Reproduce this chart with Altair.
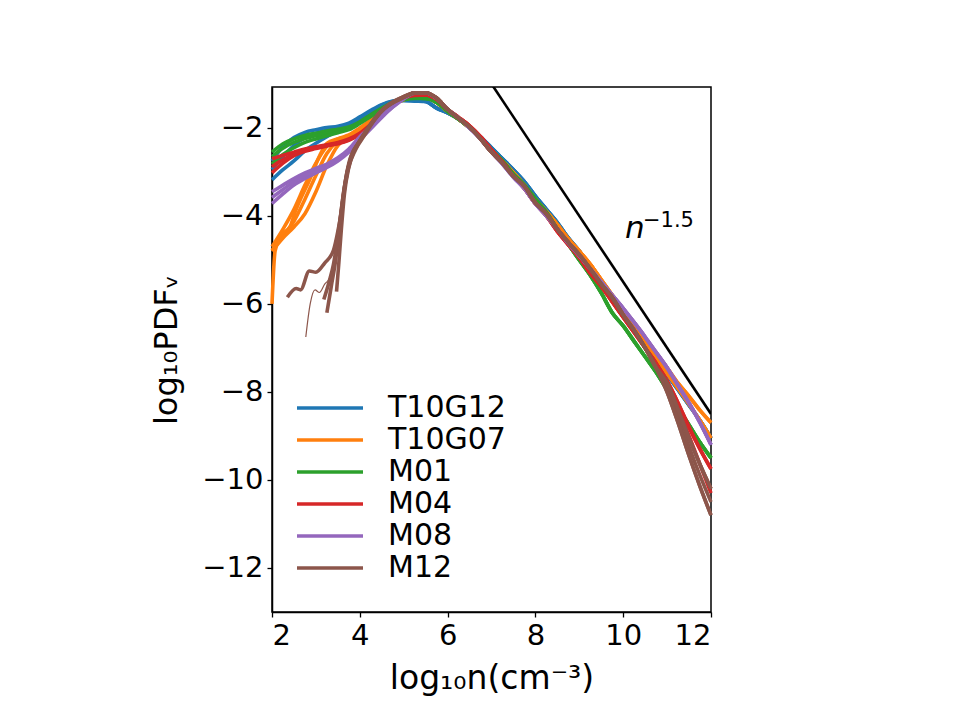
import altair as alt
import pandas as pd

MODELS = ["T10G12", "T10G07", "M01", "M04", "M08", "M12"]
COLORS = ["#1f77b4", "#ff7f0e", "#2ca02c", "#d62728", "#9467bd", "#8c564b"]

X_LOW = [2.0, 2.25, 2.5, 2.75, 3.0, 3.25, 3.5, 3.75, 4.0, 4.25, 4.5, 4.75, 5.0, 5.25]
X_HIGH = [5.5, 5.75, 6.0, 6.25, 6.5, 6.75, 7.0, 7.25, 7.5, 7.75, 8.0, 8.25, 8.5,
          8.75, 9.0, 9.25, 9.5, 9.75, 10.0, 10.25, 10.5, 10.75, 11.0, 11.25, 11.5,
          11.75, 12.0]

# ---- T10G12 (blue)
T10G12_LOW_A = [-2.75, -2.42, -2.22, -2.10, -2.04, -1.99, -1.96, -1.89, -1.75, -1.60, -1.47, -1.39, -1.36, -1.37]
T10G12_LOW_B = [-2.95, -2.65, -2.40, -2.22, -2.12, -2.05, -2.00, -1.92, -1.78, -1.62, -1.48, -1.40, -1.37, -1.38]
T10G12_LOW_C = [-3.18, -2.95, -2.75, -2.52, -2.35, -2.20, -2.07, -1.95, -1.80, -1.64, -1.50, -1.41, -1.38, -1.39]
T10G12_HIGH = [-1.40, -1.55, -1.66, -1.80, -1.98, -2.20, -2.45, -2.70, -2.95, -3.22, -3.55, -3.85, -4.15,
               -4.50, -4.80, -5.15, -5.50, -5.85, -6.20, -6.55, -6.90, -7.25, -7.60, -7.95, -8.30, -8.65, -9.05]

# ---- T10G07 (orange)
T10G07_LOW_A = [-4.70, -4.30, -3.85, -3.30, -2.80, -2.42, -2.25, -2.16, -2.00, -1.82, -1.62, -1.46, -1.35, -1.30]
T10G07_LOW_B = [-4.78, -4.45, -4.12, -3.62, -3.08, -2.58, -2.30, -2.19, -2.03, -1.84, -1.63, -1.47, -1.36, -1.30]
T10G07_LOW_D = [-4.80, -4.50, -4.25, -3.95, -3.45, -2.85, -2.40, -2.22, -2.05, -1.85, -1.64, -1.47, -1.36, -1.31]
T10G07_C_X = [2.0, 2.07, 2.18, 2.25, 2.41, 2.52, 2.64, 2.87, 3.09, 3.25, 3.5, 3.75, 4.0, 4.25, 4.5, 4.75, 5.0, 5.25]
T10G07_C_Y = [-6.0, -4.8, -4.5, -4.4, -4.25, -3.93, -3.64, -3.15, -2.62, -2.35, -2.25, -2.18, -2.02, -1.83, -1.63, -1.46, -1.35, -1.30]
T10G07_HIGH_A = [-1.30, -1.42, -1.62, -1.80, -2.00, -2.22, -2.50, -2.75, -3.02, -3.30, -3.62, -3.90, -4.20,
                 -4.52, -4.80, -5.10, -5.45, -5.80, -6.12, -6.45, -6.80, -7.12, -7.45, -7.80, -8.10, -8.42, -8.70]
T10G07_HIGH_B = [-1.30, -1.42, -1.62, -1.80, -2.00, -2.22, -2.50, -2.75, -3.02, -3.30, -3.62, -3.90, -4.20,
                 -4.52, -4.80, -5.10, -5.45, -5.80, -6.18, -6.52, -6.88, -7.22, -7.58, -7.92, -8.28, -8.65, -9.05]

# ---- M01 (green)
M01_LOW_A = [-2.55, -2.36, -2.25, -2.17, -2.12, -2.07, -2.03, -1.98, -1.86, -1.70, -1.55, -1.42, -1.35, -1.32]
M01_LOW_B = [-2.65, -2.46, -2.33, -2.24, -2.18, -2.12, -2.07, -2.01, -1.88, -1.72, -1.56, -1.43, -1.35, -1.32]
M01_LOW_C = [-2.82, -2.60, -2.45, -2.33, -2.25, -2.18, -2.11, -2.04, -1.90, -1.74, -1.58, -1.44, -1.36, -1.33]
M01_HIGH = [-1.33, -1.42, -1.62, -1.80, -2.00, -2.22, -2.50, -2.75, -3.05, -3.30, -3.62, -3.92, -4.30,
            -4.65, -5.00, -5.35, -5.75, -6.20, -6.50, -6.85, -7.20, -7.55, -7.95, -8.35, -8.75, -9.15, -9.50]

# ---- M04 (red)
M04_LOW_A = [-2.70, -2.62, -2.55, -2.48, -2.43, -2.38, -2.33, -2.25, -2.12, -1.92, -1.68, -1.46, -1.31, -1.25]
M04_LOW_B = [-3.02, -2.80, -2.63, -2.53, -2.47, -2.41, -2.36, -2.28, -2.15, -1.95, -1.70, -1.47, -1.32, -1.26]
M04_LOW_C = [-2.88, -2.72, -2.60, -2.51, -2.45, -2.40, -2.35, -2.27, -2.14, -1.94, -1.69, -1.46, -1.31, -1.25]
M04_HIGH_A = [-1.25, -1.35, -1.58, -1.76, -1.95, -2.20, -2.50, -2.78, -3.10, -3.38, -3.72, -4.00, -4.35,
              -4.65, -4.95, -5.30, -5.60, -5.95, -6.30, -6.65, -7.00, -7.35, -7.75, -8.25, -8.80, -9.30, -9.75]
M04_HIGH_B = [-1.25, -1.35, -1.58, -1.76, -1.95, -2.20, -2.50, -2.78, -3.10, -3.38, -3.72, -4.00, -4.35,
              -4.65, -4.95, -5.30, -5.60, -5.95, -6.30, -6.65, -7.00, -7.35, -7.85, -8.40, -9.00, -9.65, -10.30]

# ---- M08 (purple)
M08_LOW_A = [-3.45, -3.30, -3.15, -3.02, -2.92, -2.82, -2.68, -2.48, -2.20, -1.97, -1.72, -1.50, -1.32, -1.20]
M08_LOW_B = [-3.72, -3.50, -3.30, -3.15, -3.02, -2.90, -2.75, -2.55, -2.27, -2.02, -1.76, -1.53, -1.34, -1.21]
M08_LOW_C = [-3.58, -3.40, -3.22, -3.08, -2.97, -2.86, -2.72, -2.52, -2.24, -2.00, -1.74, -1.52, -1.33, -1.20]
M08_HIGH = [-1.20, -1.33, -1.58, -1.78, -2.00, -2.25, -2.55, -2.82, -3.12, -3.38, -3.72, -4.00, -4.30,
            -4.62, -4.90, -5.20, -5.50, -5.80, -6.10, -6.42, -6.75, -7.10, -7.45, -7.85, -8.25, -8.70, -9.20]

# ---- M12 (brown)
M12_1_X = [2.35, 2.55, 2.65, 2.85, 3.0, 3.2, 3.4, 3.5, 3.58, 3.66, 3.8, 4.0, 4.25, 4.5, 4.75, 5.0, 5.25]
M12_1_Y = [-5.85, -5.65, -5.68, -5.25, -5.28, -5.07, -4.78, -4.35, -3.9, -3.3, -2.65, -2.3, -1.92, -1.6, -1.42, -1.29, -1.21]
M12_2_X = [3.25, 3.35, 3.45, 3.53, 3.6, 3.7, 3.85, 4.05, 4.3, 4.55, 4.8, 5.0, 5.25]
M12_2_Y = [-6.2, -5.6, -5.0, -4.3, -3.7, -3.05, -2.55, -2.22, -1.86, -1.57, -1.4, -1.3, -1.2]
M12_3_X = [3.47, 3.52, 3.58, 3.65, 3.75, 3.9, 4.1, 4.35, 4.6, 4.85, 5.05, 5.25]
M12_3_Y = [-5.72, -5.1, -4.3, -3.5, -2.9, -2.5, -2.18, -1.8, -1.53, -1.38, -1.28, -1.2]
M12_4_X = [2.77, 2.87, 2.98, 3.08, 3.2, 3.32, 3.42, 3.5, 3.58, 3.68, 3.82, 4.0, 4.25, 4.5, 4.75, 5.0, 5.25]
M12_4_Y = [-6.75, -6.0, -5.68, -5.74, -5.55, -5.4, -5.0, -4.5, -3.9, -3.2, -2.62, -2.28, -1.92, -1.6, -1.42, -1.29, -1.2]
M12_5_X = [3.18, 3.3, 3.4, 3.48, 3.56, 3.64, 3.75, 3.95, 4.2, 4.45, 4.7, 4.95, 5.25]
M12_5_Y = [-5.9, -5.5, -5.1, -4.6, -4.0, -3.4, -2.8, -2.38, -1.98, -1.65, -1.44, -1.31, -1.2]
M12_6_X = [3.55, 3.62, 3.72, 3.82, 3.95, 4.15, 4.4, 4.65, 4.9, 5.1, 5.25]
M12_6_Y = [-4.2, -3.6, -3.0, -2.65, -2.38, -2.05, -1.72, -1.48, -1.35, -1.26, -1.2]
M12_HIGH_A = [-1.20, -1.32, -1.58, -1.78, -1.98, -2.25, -2.55, -2.80, -3.10, -3.33, -3.70, -3.95, -4.30,
              -4.60, -4.88, -5.20, -5.55, -5.85, -6.25, -6.60, -7.00, -7.45, -7.90, -8.55, -9.25, -9.90, -10.50]
M12_HIGH_B = [-1.20, -1.32, -1.58, -1.78, -1.98, -2.25, -2.55, -2.80, -3.10, -3.33, -3.70, -3.95, -4.30,
              -4.60, -4.88, -5.20, -5.55, -5.85, -6.25, -6.60, -7.00, -7.45, -8.00, -8.70, -9.45, -10.15, -10.80]
M12_HIGH_C = [-1.20, -1.32, -1.58, -1.78, -1.98, -2.25, -2.55, -2.80, -3.10, -3.33, -3.70, -3.95, -4.30,
              -4.60, -4.88, -5.20, -5.55, -5.85, -6.25, -6.60, -7.00, -7.45, -7.80, -8.40, -9.05, -9.65, -10.20]

# reference slope n^-1.5
SLOPE_X = [7.0, 12.0]
SLOPE_Y = [-1.0, -8.5]

CURVES = [
    ("T10G12", "b1", X_LOW, T10G12_LOW_A, T10G12_HIGH),
    ("T10G12", "b2", X_LOW, T10G12_LOW_B, T10G12_HIGH),
    ("T10G12", "b3", X_LOW, T10G12_LOW_C, T10G12_HIGH),
    ("T10G07", "o1", X_LOW, T10G07_LOW_A, T10G07_HIGH_A),
    ("T10G07", "o2", X_LOW, T10G07_LOW_B, T10G07_HIGH_B),
    ("T10G07", "o3", T10G07_C_X, T10G07_C_Y, T10G07_HIGH_A),
    ("T10G07", "o4", X_LOW, T10G07_LOW_D, T10G07_HIGH_B),
    ("M01", "g1", X_LOW, M01_LOW_A, M01_HIGH),
    ("M01", "g2", X_LOW, M01_LOW_B, M01_HIGH),
    ("M01", "g3", X_LOW, M01_LOW_C, M01_HIGH),
    ("M04", "r1", X_LOW, M04_LOW_A, M04_HIGH_A),
    ("M04", "r2", X_LOW, M04_LOW_B, M04_HIGH_B),
    ("M04", "r3", X_LOW, M04_LOW_C, M04_HIGH_A),
    ("M08", "p1", X_LOW, M08_LOW_A, M08_HIGH),
    ("M08", "p2", X_LOW, M08_LOW_B, M08_HIGH),
    ("M08", "p3", X_LOW, M08_LOW_C, M08_HIGH),
    ("M12", "w1", M12_1_X, M12_1_Y, M12_HIGH_A),
    ("M12", "w2", M12_2_X, M12_2_Y, M12_HIGH_B),
    ("M12", "w3", M12_3_X, M12_3_Y, M12_HIGH_C),
    ("M12", "w4", M12_4_X, M12_4_Y, M12_HIGH_A),
    ("M12", "w5", M12_5_X, M12_5_Y, M12_HIGH_B),
    ("M12", "w6", M12_6_X, M12_6_Y, M12_HIGH_C),
]
THIN = {"w4"}

rows = []
for model, cid, lx, ly, hy in CURVES:
    w = 1.2 if cid in THIN else 3.6
    for xv, yv in zip(list(lx) + X_HIGH, list(ly) + hy):
        rows.append({"model": model, "curve": cid, "x": xv, "y": yv, "w": w})
df = pd.DataFrame(rows)

FONT = "DejaVu Sans"
xscale = alt.Scale(domain=[2, 12], nice=False, zero=False)
yscale = alt.Scale(domain=[-13, -1.07], nice=False, zero=False)

color = alt.Color(
    "model:N",
    scale=alt.Scale(domain=MODELS, range=COLORS),
    legend=alt.Legend(
        title=None,
        orient="none",
        legendX=43,
        legendY=306,
        symbolType="M-3,0L3,0",
        symbolSize=484,
        symbolStrokeWidth=3.5,
        labelFontSize=30,
        labelFont=FONT,
        labelColor="black",
        labelOffset=43,
        rowPadding=2,
        padding=0,
        labelLimit=300,
    ),
)

layers = []
for m in MODELS:
    layers.append(
        alt.Chart(df)
        .transform_filter(alt.datum.model == m)
        .mark_line(interpolate="monotone")
        .encode(
            x=alt.X("x:Q", scale=xscale,
                    axis=alt.Axis(values=[2, 4, 6, 8, 10, 12], title="log₁₀n(cm⁻³)",
                                  titlePadding=12, titleFontSize=33)),
            y=alt.Y("y:Q", scale=yscale,
                    axis=alt.Axis(values=[-12, -10, -8, -6, -4, -2], title="log₁₀PDFᵥ",
                                  titlePadding=18, titleFontSize=32)),
            color=color,
            detail="curve:N",
            strokeWidth=alt.StrokeWidth("w:Q", scale=None),
        )
    )

slope_df = pd.DataFrame({"x": SLOPE_X, "y": SLOPE_Y})
slope = alt.Chart(slope_df).mark_line(color="black", strokeWidth=2.6, clip=True).encode(
    x=alt.X("x:Q", scale=xscale), y=alt.Y("y:Q", scale=yscale)
)

ann_n = alt.Chart(pd.DataFrame({"x": [10.04], "y": [-4.5], "t": ["n"]})).mark_text(
    font=FONT, fontSize=31, fontStyle="italic", align="left", baseline="alphabetic", color="black"
).encode(x=alt.X("x:Q", scale=xscale), y=alt.Y("y:Q", scale=yscale), text="t:N")
ann_p = alt.Chart(pd.DataFrame({"x": [10.45], "y": [-4.25], "t": ["−1.5"]})).mark_text(
    font=FONT, fontSize=21, align="left", baseline="alphabetic", color="black"
).encode(x=alt.X("x:Q", scale=xscale), y=alt.Y("y:Q", scale=yscale), text="t:N")

chart = (
    alt.layer(*layers, slope, ann_n, ann_p)
    .properties(
        width=439,
        height=525,
        autosize="none",
        padding={"left": 272, "top": 87, "right": 249, "bottom": 108},
    )
    .configure_view(stroke="black", strokeWidth=1.5)
    .configure_axis(
        grid=False,
        labelFont=FONT,
        labelFontSize=29,
        labelColor="black",
        titleFont=FONT,
        titleFontWeight="normal",
        titleColor="black",
        tickColor="black",
        tickSize=5,
        tickWidth=1.3,
        labelPadding=4,
        domainColor="black",
        domainWidth=1.5,
    )
)

chart.save("out.html", embed_options={"renderer": "svg", "actions": False})
